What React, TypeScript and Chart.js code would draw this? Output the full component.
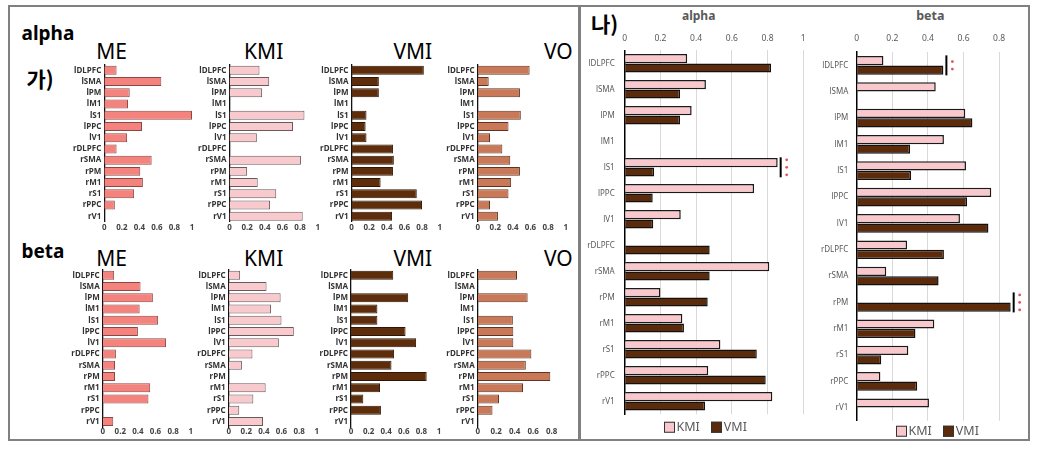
import React, { useEffect, useRef } from "react";
import { Chart, registerables } from "chart.js";
Chart.register(...registerables);

const regions = ["lDLPFC", "lSMA", "lPM", "lM1", "lS1", "lPPC", "lV1", "rDLPFC", "rSMA", "rPM", "rM1", "rS1", "rPPC", "rV1"];

// Left panel (가) – alpha band
const alphaME = [0.14, 0.65, 0.29, 0.27, 1.0, 0.43, 0.26, 0.14, 0.54, 0.41, 0.44, 0.34, 0.12, 0];
const alphaKMI = [0.34, 0.45, 0.37, 0, 0.85, 0.72, 0.31, 0, 0.81, 0.2, 0.32, 0.53, 0.46, 0.83];
const alphaVMI = [0.82, 0.31, 0.31, 0, 0.17, 0.16, 0.17, 0.47, 0.48, 0.47, 0.33, 0.74, 0.8, 0.46];
const alphaVO = [0.59, 0.125, 0.48, 0, 0.49, 0.35, 0.14, 0.28, 0.37, 0.48, 0.38, 0.35, 0.14, 0.23];
// Left panel (가) – beta band
const betaME = [0.13, 0.43, 0.57, 0.42, 0.63, 0.4, 0.72, 0.15, 0.14, 0.14, 0.54, 0.52, 0, 0.12];
const betaKMI = [0.13, 0.43, 0.59, 0.48, 0.6, 0.74, 0.57, 0.27, 0.15, 0, 0.42, 0.28, 0.12, 0.39];
const betaVMI = [0.48, 0, 0.65, 0.3, 0.3, 0.62, 0.74, 0.49, 0.46, 0.86, 0.33, 0.14, 0.34, 0];
const betaVO = [0.425, 0, 0.54, 0, 0.38, 0.385, 0.385, 0.58, 0.52, 0.785, 0.49, 0.23, 0.16, 0];

// Right panel (나)
const rAlphaKMI = [0.35, 0.455, 0.375, 0, 0.857, 0.725, 0.314, 0, 0.81, 0.2, 0.323, 0.536, 0.468, 0.827];
const rAlphaVMI = [0.82, 0.31, 0.31, 0, 0.165, 0.157, 0.16, 0.476, 0.476, 0.465, 0.332, 0.74, 0.79, 0.45];
const rBetaKMI = [0.15, 0.444, 0.61, 0.49, 0.614, 0.756, 0.58, 0.283, 0.166, 0, 0.436, 0.29, 0.133, 0.406];
const rBetaVMI = [0.487, 0, 0.65, 0.3, 0.305, 0.62, 0.74, 0.49, 0.46, 0.865, 0.33, 0.138, 0.34, 0];
const alphaSig = [{ region: "lS1", stars: 3 }];
const betaSig = [{ region: "lDLPFC", stars: 2 }, { region: "rPM", stars: 3 }];
const seriesNames = ["KMI", "VMI"];

const FONT = '"Noto Sans", "DejaVu Sans", sans-serif';
const KMI_FILL = "#F8C8CD";
const VMI_FILL = "#5B2B0C";

const fmtTick = (v: any) => String(Math.round(Number(v) * 10) / 10);

type SmallProps = {
  values: number[]; fill: string; stroke: string;
  areaLeft: number; areaTop: number; areaW: number; areaH: number; max: number; tickPad: number;
};

function SmallBar(p: SmallProps) {
  const ref = useRef<HTMLCanvasElement>(null);
  const canvasLeft = Math.floor(p.areaLeft - 44);
  const canvasTop = Math.floor(p.areaTop - 10);
  const yw = p.areaLeft - canvasLeft;
  const padTop = p.areaTop - canvasTop;
  const cw = Math.ceil(yw + p.areaW + 8);
  const padR = cw - yw - p.areaW;
  const ch = Math.ceil(padTop + p.areaH + 14);
  const xh = ch - padTop - p.areaH;
  useEffect(() => {
    const chart = new Chart(ref.current as HTMLCanvasElement, {
      type: "bar",
      data: {
        labels: regions,
        datasets: [{
          data: p.values, backgroundColor: p.fill, borderColor: p.stroke, borderWidth: 1,
          barPercentage: 0.8, categoryPercentage: 1,
        }],
      },
      options: {
        indexAxis: "y", responsive: false, animation: false,
        layout: { padding: { top: padTop, right: padR, left: 0, bottom: 0 } },
        plugins: { legend: { display: false }, tooltip: { enabled: false }, title: { display: false } },
        scales: {
          x: {
            type: "linear", min: 0, max: p.max, position: "bottom",
            grid: { display: false, drawTicks: false }, border: { display: false },
            ticks: { stepSize: 0.2, includeBounds: false, padding: p.tickPad, maxRotation: 0, autoSkip: false,
              callback: fmtTick, font: { family: FONT, size: 8, weight: "bold" }, color: "#444" },
            afterFit: (s: any) => { s.height = xh; },
          },
          y: {
            grid: { display: false, drawTicks: false }, border: { display: true, color: "#111", width: 1.3 },
            ticks: { autoSkip: false, padding: 3, font: { family: FONT, size: 8, weight: "bold" }, color: "#333" },
            afterFit: (s: any) => { s.width = yw; },
          },
        },
      } as any,
    });
    return () => chart.destroy();
  }, []);
  return <canvas ref={ref} width={cw} height={ch}
    style={{ position: "absolute", left: canvasLeft, top: canvasTop, width: cw, height: ch }} />;
}

type BigProps = {
  kmi: number[]; vmi: number[]; sig: { region: string; stars: number }[];
  areaLeft: number; areaTop: number; areaW: number; areaH: number; max: number; tickPad: number; labelPad: number;
};

function BigBar(p: BigProps) {
  const ref = useRef<HTMLCanvasElement>(null);
  const canvasLeft = Math.floor(p.areaLeft - 46);
  const canvasTop = Math.floor(p.areaTop - 25);
  const yw = p.areaLeft - canvasLeft;
  const xh = p.areaTop - canvasTop;
  const ch = Math.ceil(xh + p.areaH + 18);
  const padB = ch - xh - p.areaH;
  const cw = Math.ceil(yw + p.areaW + 14);
  const padR = cw - yw - p.areaW;
  useEffect(() => {
    const sigPlugin = {
      id: "sig",
      afterDatasetsDraw(chart: any) {
        const ctx = chart.ctx;
        const xs = chart.scales.x;
        const ys = chart.scales.y;
        p.sig.forEach((s) => {
          const i = regions.indexOf(s.region);
          const v = Math.max(...chart.data.datasets.map((d: any) => d.data[i] as number));
          const x = xs.getPixelForValue(v) + 3;
          const yc = ys.getPixelForValue(i);
          ctx.save();
          ctx.strokeStyle = "#000";
          ctx.lineWidth = 2;
          ctx.beginPath();
          ctx.moveTo(x, yc - 10);
          ctx.lineTo(x, yc + 10);
          ctx.stroke();
          ctx.fillStyle = "#dc5561";
          for (let k = 0; k < s.stars; k++) {
            const y = yc + (k - (s.stars - 1) / 2) * 7.5;
            ctx.beginPath();
            ctx.arc(x + 6, y, 1.4, 0, Math.PI * 2);
            ctx.fill();
          }
          ctx.restore();
        });
      },
    };
    const chart = new Chart(ref.current as HTMLCanvasElement, {
      type: "bar",
      data: {
        labels: regions,
        datasets: [
          { label: seriesNames[0], data: p.kmi, backgroundColor: KMI_FILL, borderColor: "#1a1a1a", borderWidth: 1.5,
            barPercentage: 0.97, categoryPercentage: 0.72 },
          { label: seriesNames[1], data: p.vmi, backgroundColor: VMI_FILL, borderColor: "#111", borderWidth: 1.5,
            barPercentage: 0.97, categoryPercentage: 0.72 },
        ],
      },
      options: {
        indexAxis: "y", responsive: false, animation: false,
        layout: { padding: { top: 0, right: padR, left: 0, bottom: padB } },
        plugins: { legend: { display: false }, tooltip: { enabled: false }, title: { display: false } },
        scales: {
          x: {
            type: "linear", min: 0, max: p.max, position: "top",
            grid: { display: true, drawTicks: false, color: "#d9d9d9", lineWidth: 1 }, border: { display: false },
            ticks: { stepSize: 0.2, includeBounds: false, padding: p.tickPad, maxRotation: 0, autoSkip: false,
              callback: fmtTick, font: { family: FONT, size: 8.5 }, color: "#595959" },
            afterFit: (s: any) => { s.height = xh; },
          },
          y: {
            grid: { display: false, drawTicks: false }, border: { display: true, color: "#000", width: 1.5 },
            ticks: { autoSkip: false, padding: p.labelPad, font: { family: FONT, size: 8 }, color: "#595959" },
            afterFit: (s: any) => { s.width = yw; },
          },
        },
      } as any,
      plugins: [sigPlugin],
    });
    return () => chart.destroy();
  }, []);
  return <canvas ref={ref} width={cw} height={ch}
    style={{ position: "absolute", left: canvasLeft, top: canvasTop, width: cw, height: ch }} />;
}

function Txt(props: { x: number; y: number; size: number; weight?: number | string; color?: string; center?: boolean; family?: string; children: React.ReactNode }) {
  return (
    <div style={{
      position: "absolute", left: props.x, top: props.y, fontSize: props.size, fontWeight: props.weight ?? 400,
      color: props.color ?? "#000", fontFamily: props.family ?? FONT, lineHeight: 1, whiteSpace: "nowrap",
      transform: props.center ? "translate(-50%, -50%)" : "translate(0, -50%)",
    }}>{props.children}</div>
  );
}

function Legend(props: { x: number; y: number }) {
  const box = (c: string) => (
    <span style={{ display: "inline-block", width: 9, height: 9, background: c, border: "1px solid #333", marginRight: 2 }} />
  );
  return (
    <div style={{
      position: "absolute", left: props.x, top: props.y, transform: "translate(0, -50%)", display: "flex",
      alignItems: "center", fontFamily: FONT, fontSize: 12.5, color: "#595959", lineHeight: 1, whiteSpace: "nowrap",
    }}>
      {box(KMI_FILL)}<span>{seriesNames[0]}</span>
      <span style={{ width: 11 }} />
      {box(VMI_FILL)}<span>{seriesNames[1]}</span>
    </div>
  );
}

const ME_C = { fill: "#F4837D", stroke: "#8a4744" };
const KMI_C = { fill: "#F8CACD", stroke: "#6b5a5b" };
const VMI_C = { fill: "#5E2D0B", stroke: "#2e1505" };
const VO_C = { fill: "#C97957", stroke: "#5e3423" };

export default function App() {
  const aTop = 64.7, aH = 157.2, bTop = 269.7, bH = 157.5;
  return (
    <div style={{ position: "fixed", left: 0, top: 0, width: 1042, height: 451, background: "#fff", overflow: "hidden" }}>
      <div style={{ position: "absolute", left: 8, top: 5, width: 572, height: 436, border: "2px solid #808080", boxSizing: "border-box" }} />
      <div style={{ position: "absolute", left: 579, top: 5, width: 451, height: 436, border: "2px solid #808080", boxSizing: "border-box" }} />

      <Txt x={21.5} y={33} size={19} weight={700}>alpha</Txt>
      <Txt x={26.5} y={78} size={21} weight={700} family='"Noto Sans CJK KR", sans-serif'>가)</Txt>
      <Txt x={21.5} y={250.5} size={19} weight={700}>beta</Txt>

      <Txt x={111.5} y={51} size={21} center>ME</Txt>
      <Txt x={263.7} y={51} size={21} center>KMI</Txt>
      <Txt x={412.8} y={51} size={21} center>VMI</Txt>
      <Txt x={558.3} y={51} size={21} center>VO</Txt>
      <Txt x={111.5} y={258} size={21} center>ME</Txt>
      <Txt x={263.7} y={258} size={21} center>KMI</Txt>
      <Txt x={412.8} y={258} size={21} center>VMI</Txt>
      <Txt x={558.3} y={258} size={21} center>VO</Txt>

      <SmallBar values={alphaME} {...ME_C} areaLeft={104.3} areaTop={aTop} areaW={87.7} areaH={aH} max={1} tickPad={1} />
      <SmallBar values={alphaKMI} {...KMI_C} areaLeft={229.5} areaTop={aTop} areaW={88.2} areaH={aH} max={1} tickPad={1} />
      <SmallBar values={alphaVMI} {...VMI_C} areaLeft={351.5} areaTop={aTop} areaW={88.2} areaH={aH} max={1} tickPad={1} />
      <SmallBar values={alphaVO} {...VO_C} areaLeft={477.7} areaTop={aTop} areaW={88} areaH={aH} max={1} tickPad={1} />
      <SmallBar values={betaME} {...ME_C} areaLeft={102.7} areaTop={bTop} areaW={88} areaH={bH} max={1} tickPad={0} />
      <SmallBar values={betaKMI} {...KMI_C} areaLeft={228.7} areaTop={bTop} areaW={88} areaH={bH} max={1} tickPad={0} />
      <SmallBar values={betaVMI} {...VMI_C} areaLeft={351} areaTop={bTop} areaW={88} areaH={bH} max={1} tickPad={0} />
      <SmallBar values={betaVO} {...VO_C} areaLeft={477.7} areaTop={bTop} areaW={83.25} areaH={bH} max={0.9} tickPad={0} />

      <Txt x={591} y={23} size={21} weight={700} family='"Noto Sans CJK KR", sans-serif'>나)</Txt>
      <Txt x={698.7} y={16.3} size={12} weight={700} color="#595959" center>alpha</Txt>
      <Txt x={930.3} y={15.7} size={12.5} weight={700} color="#595959" center>beta</Txt>

      <BigBar kmi={rAlphaKMI} vmi={rAlphaVMI} sig={alphaSig} areaLeft={624.7} areaTop={50.3} areaW={178.5}
        areaH={364} max={1} tickPad={7} labelPad={10} />
      <BigBar kmi={rBetaKMI} vmi={rBetaVMI} sig={betaSig} areaLeft={856.7} areaTop={52.2} areaW={160.2}
        areaH={368.7} max={0.9} tickPad={9} labelPad={8.4} />

      <Legend x={663.5} y={427.3} />
      <Legend x={895.5} y={431} />
    </div>
  );
}
